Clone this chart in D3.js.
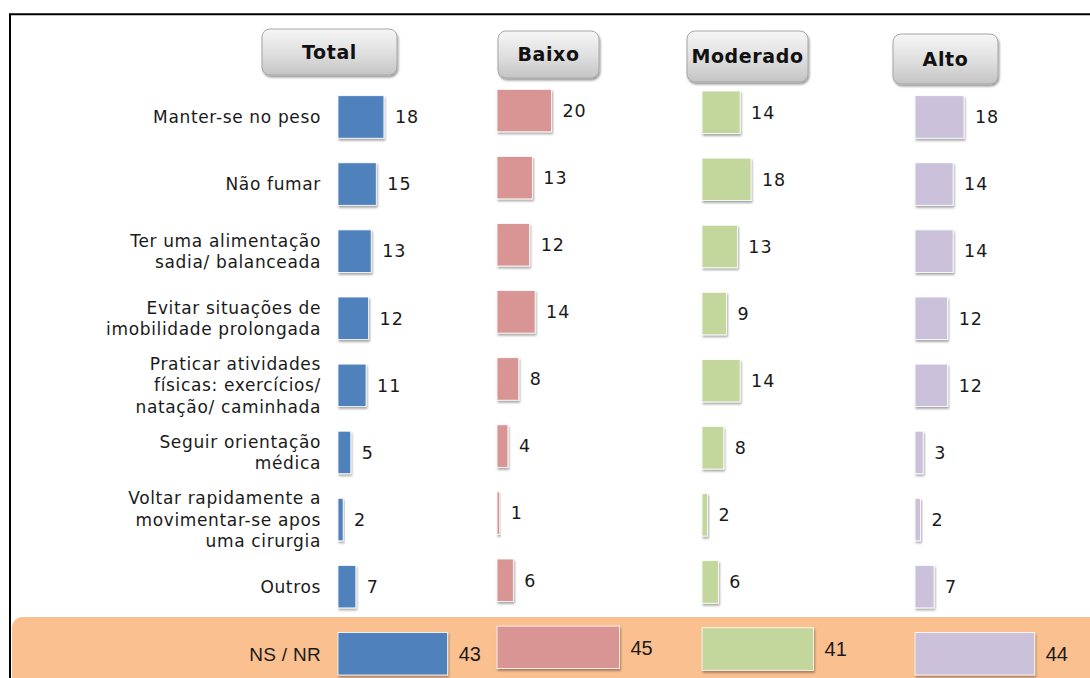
<!DOCTYPE html>
<html>
<head>
<meta charset="utf-8">
<script src="https://cdn.jsdelivr.net/npm/d3@7"></script>
<style>
  html, body { margin: 0; padding: 0; background: #fff; }
  svg { display: block; }
</style>
</head>
<body>
<div id="chart"></div>
<script>
// dados do grafico
var categories = [
  "Manter-se no peso",
  "Não fumar",
  "Ter uma alimentação\nsadia/ balanceada",
  "Evitar situações de\nimobilidade prolongada",
  "Praticar atividades\nfísicas: exercícios/\nnatação/ caminhada",
  "Seguir orientação\nmédica",
  "Voltar rapidamente a\nmovimentar-se apos\numa cirurgia",
  "Outros",
  "NS / NR"
];
var groups = ["Total", "Baixo", "Moderado", "Alto"];
var totalValues    = [18, 15, 13, 12, 11, 5, 2, 7, 43];
var baixoValues    = [20, 13, 12, 14, 8, 4, 1, 6, 45];
var moderadoValues = [14, 18, 13, 9, 14, 8, 2, 6, 41];
var altoValues     = [18, 14, 14, 12, 12, 3, 2, 7, 44];

var seriesValues = [totalValues, baixoValues, moderadoValues, altoValues];
var colors = ["#4f81bd", "#d99594", "#c3d69b", "#ccc1da"];

// layout de cada painel (posicao da coluna)
var panels = [
  { x0: 338, pxPerUnit: 2.55, top0: 95.7, box: [262, 29, 135, 46] },
  { x0: 497, pxPerUnit: 2.72, top0: 89.3, box: [498, 31, 101, 47] },
  { x0: 702, pxPerUnit: 2.72, top0: 91,   box: [687, 31, 121, 51] },
  { x0: 915, pxPerUnit: 2.72, top0: 95.7, box: [893, 34, 105, 50] }
];
var rowPitch = 67.1;
var barH = 42.5;
var mainFont = "'DejaVu Sans', Verdana, sans-serif";
var narrowFont = "'Liberation Sans Narrow', 'Liberation Sans', sans-serif";

var W = 1090, H = 678;
var svg = d3.select("#chart").append("svg")
  .attr("width", W)
  .attr("height", H);

var defs = svg.append("defs");
var grad = defs.append("linearGradient")
  .attr("id", "btnGrad")
  .attr("x1", 0).attr("y1", 0).attr("x2", 0).attr("y2", 1);
grad.append("stop").attr("offset", "0%").attr("stop-color", "#f6f6f6");
grad.append("stop").attr("offset", "55%").attr("stop-color", "#dedede");
grad.append("stop").attr("offset", "100%").attr("stop-color", "#c4c4c4");

var shadow = defs.append("filter").attr("id", "shadow")
  .attr("x", "-20%").attr("y", "-20%").attr("width", "150%").attr("height", "160%");
shadow.append("feDropShadow")
  .attr("dx", 1).attr("dy", 2).attr("stdDeviation", 1.2)
  .attr("flood-color", "#000").attr("flood-opacity", 0.4);

var barShadow = defs.append("filter").attr("id", "barShadow")
  .attr("x", "-30%").attr("y", "-20%").attr("width", "160%").attr("height", "150%");
barShadow.append("feDropShadow")
  .attr("dx", 1).attr("dy", 2).attr("stdDeviation", 0.9)
  .attr("flood-color", "#000").attr("flood-opacity", 0.35);

// faixa laranja do NS/NR
svg.append("rect")
  .attr("x", 12).attr("y", 617)
  .attr("width", W + 20).attr("height", 100)
  .attr("rx", 10).attr("ry", 10)
  .attr("fill", "#fac090");

// moldura
svg.append("path")
  .attr("d", "M10," + H + " L10,14.3 L" + W + ",14.3")
  .attr("fill", "none")
  .attr("stroke", "#000")
  .attr("stroke-width", 2);

var nsIndex = categories.length - 1;
var totalY = d3.scaleLinear().domain([0, 8]).range([panels[0].top0, panels[0].top0 + 8 * rowPitch]);

// rotulos das categorias
var catG = svg.append("g");
categories.forEach(function (c, i) {
  var lines = c.split("\n");
  var cy = totalY(i) + barH / 2;
  var isNs = i == nsIndex;
  var lh = 21.5;
  var t = catG.append("text")
    .attr("text-anchor", "end")
    .attr("font-family", isNs ? narrowFont : mainFont)
    .attr("font-size", isNs ? "19px" : "17px")
    .attr("letter-spacing", isNs ? "0.3px" : "0.65px")
    .attr("fill", "#1a1a1a");
  lines.forEach(function (l, k) {
    t.append("tspan")
      .attr("x", 321)
      .attr("y", cy + (k - (lines.length - 1) / 2) * lh)
      .attr("dy", "0.36em")
      .text(l);
  });
});

// paineis
groups.forEach(function (g, gi) {
  var p = panels[gi];
  var vals = seriesValues[gi];
  var x = d3.scaleLinear().domain([0, 50]).range([p.x0, p.x0 + 50 * p.pxPerUnit]);
  var y = d3.scaleLinear().domain([0, 8]).range([p.top0, p.top0 + 8 * rowPitch]);
  var panel = svg.append("g");

  // botao de cabecalho
  var b = p.box;
  panel.append("rect")
    .attr("x", b[0]).attr("y", b[1])
    .attr("width", b[2]).attr("height", b[3])
    .attr("rx", 8).attr("ry", 8)
    .attr("fill", "url(#btnGrad)")
    .attr("stroke", "#a6a6a6")
    .attr("stroke-width", 1)
    .attr("filter", "url(#shadow)");
  panel.append("text")
    .attr("x", b[0] + b[2] / 2)
    .attr("y", b[1] + b[3] / 2)
    .attr("dy", "0.36em")
    .attr("text-anchor", "middle")
    .attr("font-family", mainFont)
    .attr("font-weight", "bold")
    .attr("font-size", "19px")
    .attr("letter-spacing", "0.6px")
    .attr("fill", "#111")
    .text(g);

  panel.selectAll("rect.bar")
    .data(vals)
    .enter()
    .append("rect")
    .attr("class", "bar")
    .attr("x", x(0))
    .attr("y", function (d, i) { return y(i); })
    .attr("width", function (d) { return x(d) - x(0); })
    .attr("height", barH)
    .attr("fill", colors[gi])
    .attr("stroke", "#fff")
    .attr("stroke-width", 0.8)
    .attr("filter", "url(#barShadow)");

  panel.selectAll("text.val")
    .data(vals)
    .enter()
    .append("text")
    .attr("class", "val")
    .attr("x", function (d) { return x(d) + 11; })
    .attr("y", function (d, i) { return y(i) + barH / 2; })
    .attr("dy", "0.36em")
    .attr("font-family", function (d, i) { return i == nsIndex ? narrowFont : mainFont; })
    .attr("font-size", function (d, i) { return i == nsIndex ? "20px" : "17.5px"; })
    .attr("letter-spacing", function (d, i) { return i == nsIndex ? "0px" : "1px"; })
    .attr("fill", "#1a1a1a")
    .text(function (d) { return d; });
});
</script>
</body>
</html>
